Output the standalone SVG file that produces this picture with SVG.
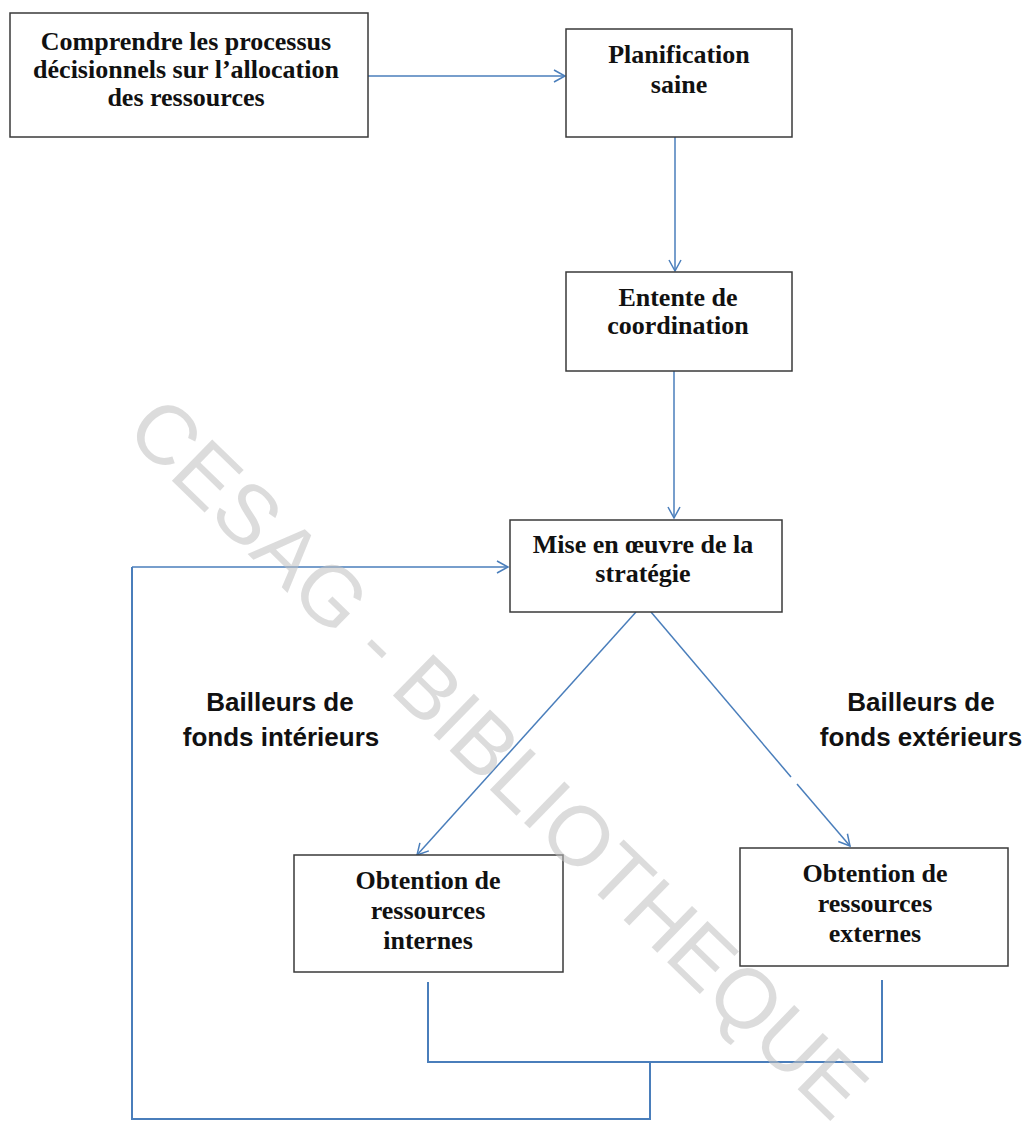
<svg xmlns="http://www.w3.org/2000/svg" width="1027" height="1148" viewBox="0 0 1027 1148">
<style>
.box{fill:#ffffff;stroke:#3a3a3a;stroke-width:1.5}
.t{font-family:"Liberation Serif","Times New Roman",serif;font-weight:bold;font-size:26px;fill:#111;text-anchor:middle}
.lbl{font-family:"Liberation Sans",Arial,sans-serif;font-weight:bold;font-size:26px;fill:#111;text-anchor:middle}
.c{fill:none;stroke:#4a7ebb;stroke-width:1.5}
.b{fill:none;stroke:#4a7ebb;stroke-width:2}
.wm{font-family:"Liberation Sans",Arial,sans-serif;font-size:84px;fill:#bfbfbf;fill-opacity:0.55}
</style>
<defs>
<marker id="ah" markerUnits="userSpaceOnUse" markerWidth="14" markerHeight="14" viewBox="0 0 14 14" refX="12" refY="7" orient="auto">
<path d="M1,1 L12,7 L1,13" fill="none" stroke="#4a7ebb" stroke-width="1.5"/>
</marker>
</defs>
<g id="connectors">
<line class="c" x1="368" y1="76" x2="565" y2="76" marker-end="url(#ah)"/>
<line class="c" x1="675" y1="137" x2="675" y2="271" marker-end="url(#ah)"/>
<line class="c" x1="674" y1="371" x2="674" y2="518" marker-end="url(#ah)"/>
<line class="c" x1="636" y1="612" x2="417" y2="855" marker-end="url(#ah)"/>
<line class="c" x1="651" y1="612" x2="791" y2="777"/>
<line class="c" x1="797" y1="784" x2="850" y2="846" marker-end="url(#ah)"/>
<polyline class="b" points="428,982 428,1062 882,1062 882,980"/>
<polyline class="b" points="650,1062 650,1119 132,1119 132,567"/>
<line class="c" x1="132" y1="567" x2="508" y2="567" marker-end="url(#ah)"/>
</g>
<g id="n1">
<rect class="box" x="10" y="13" width="358" height="124"/>
<text class="t" x="186" y="50">Comprendre les processus</text>
<text class="t" x="186" y="78">décisionnels sur l’allocation</text>
<text class="t" x="186" y="106">des ressources</text>
</g>
<g id="n2">
<rect class="box" x="566" y="29" width="226" height="108"/>
<text class="t" x="679" y="63">Planification</text>
<text class="t" x="679" y="93">saine</text>
</g>
<g id="n3">
<rect class="box" x="566" y="272" width="226" height="99"/>
<text class="t" x="678" y="306">Entente de</text>
<text class="t" x="678" y="334">coordination</text>
</g>
<g id="n4">
<rect class="box" x="510" y="520" width="272" height="92"/>
<text class="t" x="643" y="553">Mise en œuvre de la</text>
<text class="t" x="643" y="582">stratégie</text>
</g>
<g id="n5">
<rect class="box" x="294" y="855" width="269" height="117"/>
<text class="t" x="428" y="889">Obtention de</text>
<text class="t" x="428" y="919">ressources</text>
<text class="t" x="428" y="949">internes</text>
</g>
<g id="n6">
<rect class="box" x="740" y="848" width="268" height="118"/>
<text class="t" x="875" y="882">Obtention de</text>
<text class="t" x="875" y="912">ressources</text>
<text class="t" x="875" y="942">externes</text>
</g>
<g id="label-interieurs">
<text class="lbl" x="280" y="711">Bailleurs de</text>
<text class="lbl" x="281" y="746">fonds intérieurs</text>
</g>
<g id="label-exterieurs">
<text class="lbl" x="921" y="711">Bailleurs de</text>
<text class="lbl" x="921" y="746">fonds extérieurs</text>
</g>
<g id="watermark" transform="translate(166,433) rotate(44.2)">
<text class="wm" x="-30" y="30">CESAG - BIBLIOTHEQUE</text>
</g>
</svg>
